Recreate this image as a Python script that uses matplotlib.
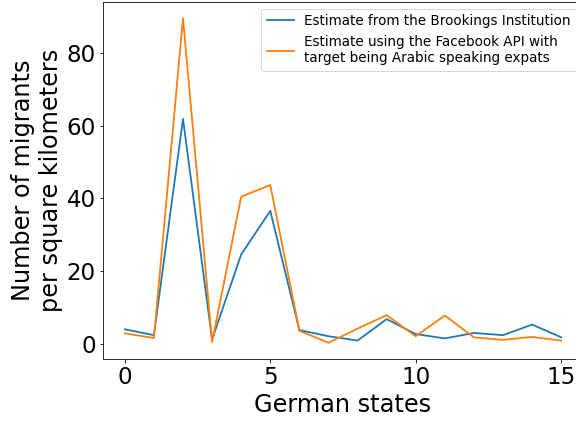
import matplotlib
matplotlib.use("Agg")
import matplotlib.pyplot as plt

states = list(range(16))
brookings = [4.0, 2.4, 61.9, 1.2, 24.6, 36.6, 3.8, 2.1, 0.9, 6.8, 2.7, 1.5, 3.0, 2.4, 5.3, 1.8]
facebook = [2.9, 1.6, 89.6, 0.5, 40.5, 43.7, 3.6, 0.3, 4.2, 7.9, 2.1, 7.8, 1.8, 1.1, 1.9, 0.9]

labels = ["Estimate from the Brookings Institution",
          "Estimate using the Facebook API with\ntarget being Arabic speaking expats"]

fig = plt.figure(figsize=(8, 422 / 72), dpi=72)
ax = fig.add_axes([103 / 576, 1 - 359 / 422, (583 - 103) / 576, (359 - 2) / 422])
ax.plot(states, brookings, color="#1f77b4", lw=1.8, label=labels[0])
ax.plot(states, facebook, color="#ff7f0e", lw=1.8, label=labels[1])
ax.set_xticks([0, 5, 10, 15])
ax.set_yticks([0, 20, 40, 60, 80])
ax.tick_params(labelsize=23)
ax.set_xlabel("German states", fontsize=24)
ax.set_ylabel("Number of migrants\nper square kilometers", fontsize=24)
ax.legend(loc="upper right", fontsize=13.5)
fig.savefig("out.png", dpi=72)
